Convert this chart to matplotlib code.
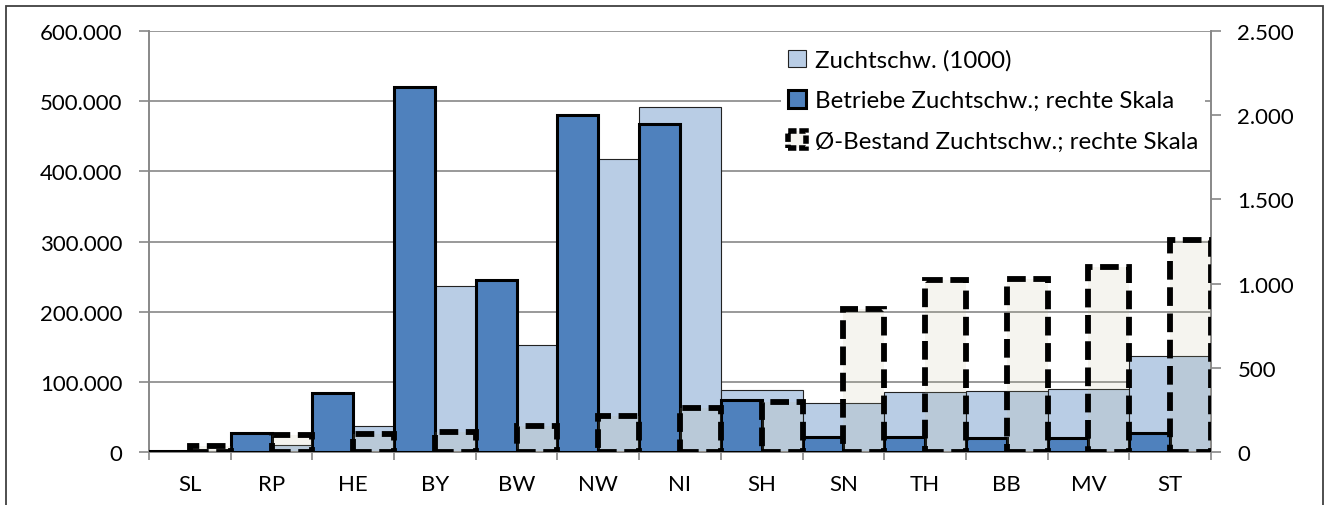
import numpy as np
import matplotlib.pyplot as plt
from matplotlib.patches import Patch, Rectangle
from matplotlib.ticker import FuncFormatter, MultipleLocator, FixedLocator

plt.rcParams['font.family'] = ['Lato', 'DejaVu Sans']
plt.rcParams['font.size'] = 16

# Bundeslaender
laender = ["SL", "RP", "HE", "BY", "BW", "NW", "NI", "SH", "SN", "TH", "BB", "MV", "ST"]
# Zuchtsauen (linke Skala)
zuchtschw = [1000, 10000, 37000, 236000, 152000, 417000, 492000, 88000, 70000, 85000, 87000, 90000, 137000]
# Betriebe mit Zuchtsauen (rechte Skala)
betriebe = [8, 110, 350, 2170, 1020, 2000, 1950, 310, 87, 87, 85, 81, 113]
# durchschnittlicher Bestand je Betrieb (rechte Skala)
bestand = [36, 101, 107, 117, 156, 216, 259, 297, 849, 1023, 1027, 1097, 1261]

light_blue = "#B9CDE5"
dark_blue = "#4F81BD"
box_fill = (188/255, 182/255, 148/255, 0.15)
grid_col = "#888888"

def de_fmt(v, pos):
    return f"{v:,.0f}".replace(",", ".")

fig = plt.figure(figsize=(13.31, 5.06), dpi=100)
ax = fig.add_axes([149/1331, 1 - 453/506, (1211 - 149)/1331, (453 - 32)/506])
ax2 = ax.twinx()

x = np.arange(len(laender))

ax.bar(x, zuchtschw, width=1.0, color=light_blue, edgecolor="#222222", linewidth=0.8, zorder=2)
ax2.bar(x - 0.25, betriebe, width=0.5, color=dark_blue, edgecolor="black", linewidth=2.2, zorder=3)
ax2.bar(x + 0.25, bestand, width=0.5, color=box_fill, edgecolor="black", linewidth=4.2,
        linestyle=(0, (3.2, 1.3)), zorder=4)

ax.set_xlim(-0.5, len(laender) - 0.5)
ax.set_ylim(0, 600000)
ax2.set_ylim(0, 2500)
ax.yaxis.set_major_locator(MultipleLocator(100000))
ax2.yaxis.set_major_locator(MultipleLocator(500))
ax.yaxis.set_major_formatter(FuncFormatter(de_fmt))
ax2.yaxis.set_major_formatter(FuncFormatter(de_fmt))

ax.set_xticks(x)
ax.set_xticklabels(laender)
ax.xaxis.set_minor_locator(FixedLocator(np.arange(-0.5, len(laender), 1.0)))
ax.tick_params(axis="x", which="major", length=0, pad=16)
ax.tick_params(axis="x", which="minor", length=6, color=grid_col, width=1.2)
ax.tick_params(axis="y", length=7, color=grid_col, width=1.2, pad=12)
ax2.tick_params(axis="y", length=7, color=grid_col, width=1.2, pad=12)

ax.set_axisbelow(True)
ax.grid(axis="y", color=grid_col, linewidth=1.2, zorder=0)
for a in (ax, ax2):
    for s in a.spines.values():
        s.set_color(grid_col)
        s.set_linewidth(1.2)
    a.spines["top"].set_visible(False)

handles = [
    Patch(facecolor=light_blue, edgecolor="#222222", linewidth=0.8, label="Zuchtschw. (1000)"),
    Patch(facecolor=dark_blue, edgecolor="black", linewidth=2.2, label="Betriebe Zuchtschw.; rechte Skala"),
    Patch(facecolor=box_fill, edgecolor="black", linewidth=4, linestyle=(0, (1.5, 0.5)),
          label="Ø-Bestand Zuchtschw.; rechte Skala"),
]
leg = ax2.legend(handles=handles, loc="upper right", bbox_to_anchor=(1.006, 1.002),
                 frameon=True, fancybox=False, edgecolor="none", framealpha=1,
                 fontsize=17.3, handlelength=0.75, handleheight=0.75, handletextpad=0.35,
                 labelspacing=0.8, borderpad=0.3)
leg.set_zorder(10)

fig.patches.append(Rectangle((6/1331, -0.1), (1323 - 6)/1331, 1.1 - 7/506,
                             transform=fig.transFigure, fill=False,
                             edgecolor="#404040", linewidth=1.3))

fig.savefig("out.png", dpi=100)
